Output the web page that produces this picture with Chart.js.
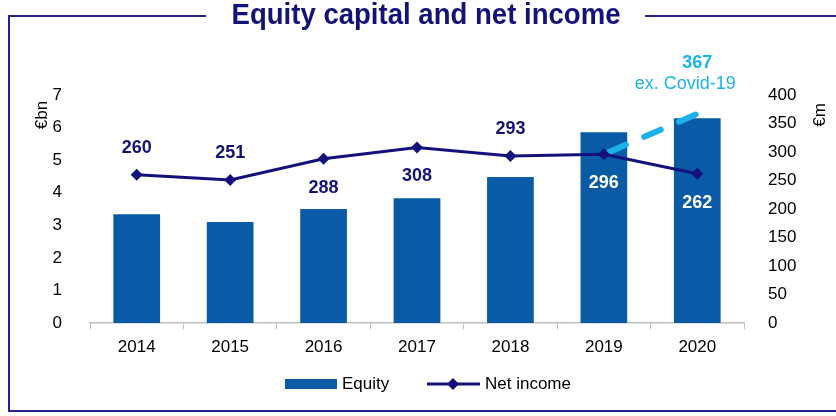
<!DOCTYPE html>
<html>
<head>
<meta charset="utf-8">
<script src="https://cdn.jsdelivr.net/npm/chart.js@4.4.0/dist/chart.umd.min.js"></script>
<style>
  html, body { margin: 0; padding: 0; background: #fff; }
</style>
</head>
<body>
<canvas id="chart" width="836" height="416"></canvas>
<script>
// Chart data
const years = ['2014', '2015', '2016', '2017', '2018', '2019', '2020'];
const equity = [3.34, 3.1, 3.5, 3.83, 4.48, 5.86, 6.29];
const netIncome = [260, 251, 288, 308, 293, 296, 262];
const exCovid = [null, null, null, null, null, 296, 367];
// where each net income label sits, and whether it is on a bar
const labelBelow = [false, false, true, true, false, true, true];
const labelOnBar = [false, false, false, false, false, true, true];

const NAVY = '#12127a';
const BAR = '#0a5ba6';
const CYAN = '#1bb3ea';
const FONT = '"Liberation Sans", Arial, sans-serif';

// Frame, title, axis titles, legend and value labels
const decorations = {
    id: 'decorations',
    afterDatasetsDraw(chart) {
        const ctx = chart.ctx;
        ctx.save();
        ctx.textAlign = 'center';
        ctx.textBaseline = 'middle';

        // Net income labels
        const meta = chart.getDatasetMeta(1);
        ctx.font = 'bold 18px ' + FONT;
        meta.data.forEach((pt, i) => {
            ctx.fillStyle = labelOnBar[i] ? '#ffffff' : NAVY;
            const dy = labelBelow[i] ? 29 : -27;
            ctx.fillText(netIncome[i], pt.x, pt.y + dy);
        });

        // ex. Covid-19 label
        const cMeta = chart.getDatasetMeta(2);
        const last = cMeta.data[exCovid.length - 1];
        ctx.fillStyle = CYAN;
        ctx.font = 'bold 18px ' + FONT;
        ctx.fillText(exCovid[exCovid.length - 1], last.x, last.y - 51);
        ctx.font = '18px ' + FONT;
        ctx.fillText('ex. Covid-19', last.x - 12, last.y - 30);
        ctx.restore();
    },
    afterDraw(chart) {
        const ctx = chart.ctx;
        ctx.save();

        // Title, squeezed a little like the original
        const title = 'Equity capital and net income';
        ctx.font = 'bold 29px ' + FONT;
        ctx.fillStyle = NAVY;
        ctx.textAlign = 'center';
        ctx.textBaseline = 'middle';
        const tx = 426;
        const tw = 389;
        const sx = tw / ctx.measureText(title).width;
        ctx.translate(tx, 16);
        ctx.scale(sx, 1);
        ctx.fillText(title, 0, 0);
        ctx.setTransform(1, 0, 0, 1, 0, 0);

        // Frame
        ctx.strokeStyle = '#22228a';
        ctx.lineWidth = 2;
        ctx.beginPath();
        ctx.moveTo(206, 16);
        ctx.lineTo(9, 16);
        ctx.lineTo(9, 411);
        ctx.lineTo(836, 411);
        ctx.moveTo(645, 16);
        ctx.lineTo(836, 16);
        ctx.stroke();

        // Axis titles
        ctx.fillStyle = '#000';
        ctx.font = '17px ' + FONT;
        ctx.translate(42, 115);
        ctx.rotate(-Math.PI / 2);
        ctx.fillText('€bn', 0, 0);
        ctx.setTransform(1, 0, 0, 1, 0, 0);
        ctx.translate(820, 115);
        ctx.rotate(-Math.PI / 2);
        ctx.fillText('€m', 0, 0);
        ctx.setTransform(1, 0, 0, 1, 0, 0);

        // Legend
        const ly = 384;
        ctx.fillStyle = BAR;
        ctx.fillRect(285, ly - 5, 52, 10);
        ctx.fillStyle = '#000';
        ctx.textAlign = 'left';
        ctx.font = '17px ' + FONT;
        ctx.fillText('Equity', 342, ly);
        ctx.strokeStyle = NAVY;
        ctx.lineWidth = 3;
        ctx.beginPath();
        ctx.moveTo(427, ly);
        ctx.lineTo(480, ly);
        ctx.stroke();
        ctx.fillStyle = NAVY;
        ctx.beginPath();
        ctx.moveTo(453, ly - 6);
        ctx.lineTo(459, ly);
        ctx.lineTo(453, ly + 6);
        ctx.lineTo(447, ly);
        ctx.closePath();
        ctx.fill();
        ctx.fillStyle = '#000';
        ctx.fillText('Net income', 485, ly);
        ctx.restore();
    }
};

const tickFont = { family: FONT, size: 17 };

new Chart(document.getElementById('chart'), {
    type: 'bar',
    data: {
        labels: years,
        datasets: [{
            label: 'Equity',
            data: equity,
            backgroundColor: BAR,
            barPercentage: 0.5,
            categoryPercentage: 1,
            yAxisID: 'y',
            order: 3
        }, {
            type: 'line',
            label: 'Net income',
            data: netIncome,
            borderColor: NAVY,
            backgroundColor: NAVY,
            borderWidth: 3,
            pointStyle: 'rectRot',
            pointRadius: 6,
            pointBorderWidth: 0,
            yAxisID: 'y1',
            order: 1
        }, {
            type: 'line',
            label: 'ex. Covid-19',
            data: exCovid,
            borderColor: CYAN,
            borderWidth: 6,
            borderDash: [18, 20],
            borderDashOffset: -6,
            borderCapStyle: 'round',
            pointRadius: 0,
            yAxisID: 'y1',
            order: 2
        }]
    },
    options: {
        responsive: false,
        animation: false,
        layout: { padding: { top: 95, bottom: 53, left: 0, right: 0 } },
        plugins: {
            legend: { display: false },
            tooltip: { enabled: false }
        },
        scales: {
            x: {
                offset: true,
                grid: { display: true, drawOnChartArea: false, tickLength: 6, color: '#bfbfbf' },
                border: { display: true, color: '#bfbfbf', width: 1.5 },
                ticks: { font: tickFont, color: '#000', padding: 8 },
                afterFit(s) { s.height = 40; }
            },
            y: {
                position: 'left',
                min: 0,
                max: 7,
                ticks: { stepSize: 1, font: tickFont, color: '#000', padding: 20 },
                grid: { display: false },
                border: { display: false },
                afterFit(s) { s.width = 90; }
            },
            y1: {
                position: 'right',
                min: 0,
                max: 400,
                ticks: { stepSize: 50, font: tickFont, color: '#000', padding: 16 },
                grid: { display: false },
                border: { display: false },
                afterFit(s) { s.width = 92; }
            }
        }
    },
    plugins: [decorations]
});
</script>
</body>
</html>
